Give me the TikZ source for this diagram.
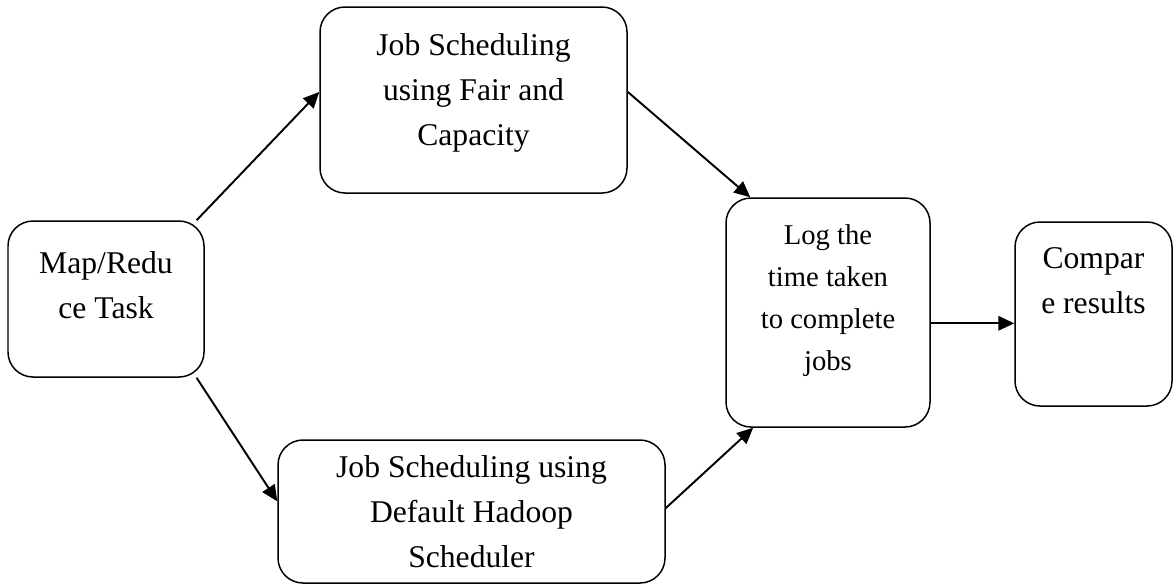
\documentclass[tikz,border=0pt]{standalone}
\usepackage{fontspec}
\setmainfont{Liberation Serif}
\usetikzlibrary{arrows.meta}

\begin{document}
\begin{tikzpicture}[
  stage/.style={draw, line width=0.85pt, rounded corners=0.5cm},
  lbl/.style={align=center, font=\fontsize{18}{25.5}\selectfont},
  flow/.style={-{Triangle[length=3.2mm,width=2.9mm]}, line width=1.1pt}
]
\useasboundingbox (0,0) rectangle (23.48,-11.68);
% boxes
\node[stage, minimum width=3.92cm, minimum height=3.12cm] (map) at (2.12,-5.98) {};
\node[stage, minimum width=6.14cm, minimum height=3.72cm] (top) at (9.47,-2.00) {};
\node[stage, minimum width=7.74cm, minimum height=2.86cm] (bot) at (9.43,-10.23) {};
\node[stage, minimum width=4.08cm, minimum height=4.58cm] (log) at (16.56,-6.25) {};
\node[stage, minimum width=3.14cm, minimum height=3.68cm] (cmp) at (21.87,-6.28) {};
% texts
\node[lbl] (maptxt) at (2.12,-5.70) {Map/Redu\\ce Task};
\node[lbl] (toptxt) at (9.47,-1.86) {Job Scheduling\\using Fair and\\Capacity};
\node[lbl] (bottxt) at (9.43,-10.23) {Job Scheduling using\\Default Hadoop\\Scheduler};
\node[lbl, font=\fontsize{16.3}{23.8}\selectfont] (logtxt) at (16.56,-6.01) {Log the\\time taken\\to complete\\jobs};
\node[lbl] (cmptxt) at (21.87,-5.61) {Compar\\e results};
% arrows
\draw[flow] (map.41) -- (top.177);
\draw[flow] (map.-41) -- (bot.177);
\draw[flow] (top.3) -- (log.124);
\draw[flow] (bot.1) -- (log.237);
\draw[flow] (log.-6) -- (log.-6 -| cmp.west);
\end{tikzpicture}
\end{document}
